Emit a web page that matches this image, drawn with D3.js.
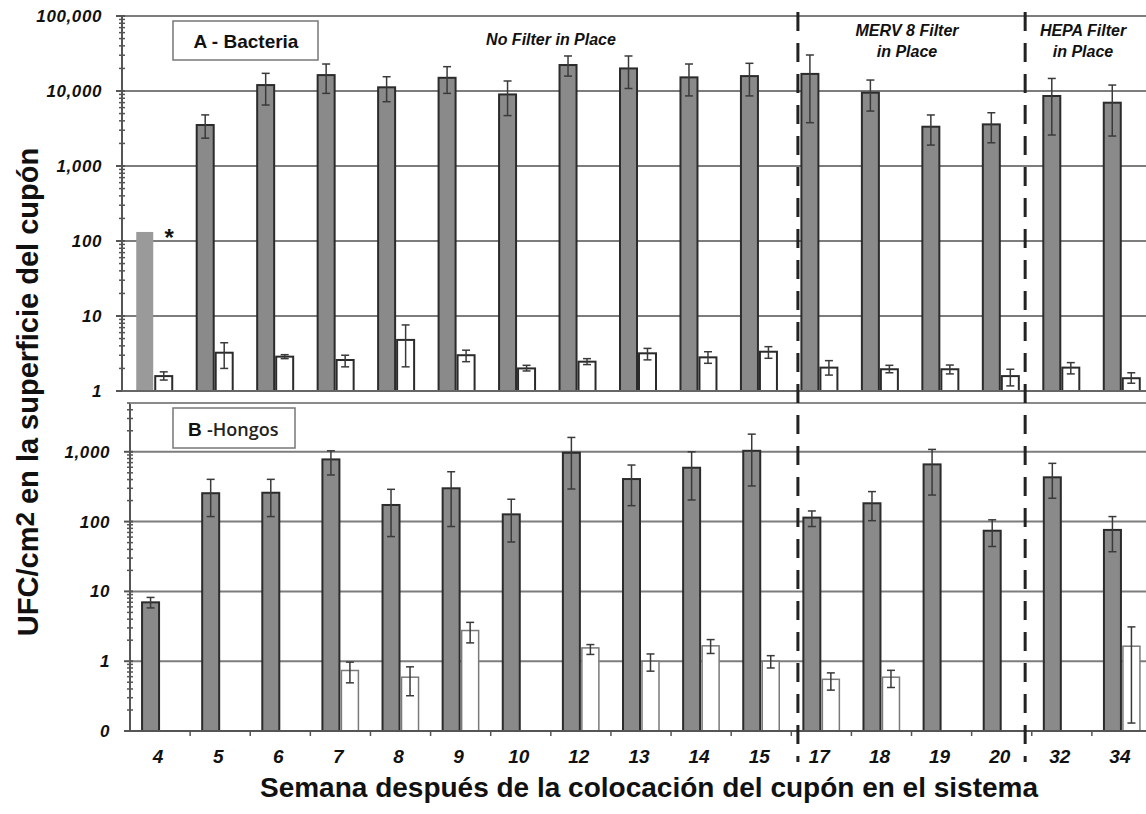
<!DOCTYPE html>
<html>
<head>
<meta charset="utf-8">
<script src="https://cdn.jsdelivr.net/npm/d3@7"></script>
<style>
  html, body { margin: 0; padding: 0; background: #fff; }
  svg { display: block; }
  text { font-family: "Liberation Sans", Arial, sans-serif; fill: #111; }
</style>
</head>
<body>
<svg id="chart" width="1146" height="814"></svg>
<script>
// Weeks after coupon placement
const weeks = ["4","5","6","7","8","9","10","12","13","14","15","17","18","19","20","32","34"];

// Panel A – bacteria (CFU/cm2), dark bars with error range
const bactDark   = [132, 3520, 12000, 16300, 11200, 15000, 9000, 22200, 20000, 15200, 15800, 16900, 9500, 3340, 3590, 8580, 6980];
const bactDarkLo = [null, 2350, 6500, 9300, 7200, 9300, 4700, 15800, 10800, 8600, 8600, 3780, 5400, 1900, 2040, 2590, 2510];
const bactDarkHi = [null, 4800, 17200, 22900, 15500, 21100, 13600, 29300, 29300, 22900, 23400, 30200, 14000, 4790, 5130, 14700, 12000];
// Panel A – bacteria, light bars
const bactLight   = [1.58, 3.24, 2.87, 2.59, 4.8, 3.0, 2.0, 2.46, 3.18, 2.81, 3.34, 2.05, 1.95, 1.95, 1.58, 2.05, 1.48];
const bactLightLo = [1.4, 2.0, 2.7, 2.1, 2.1, 2.46, 1.85, 2.25, 2.6, 2.34, 2.73, 1.63, 1.75, 1.69, 1.17, 1.69, 1.27];
const bactLightHi = [1.8, 4.4, 3.05, 3.0, 7.6, 3.5, 2.2, 2.7, 3.7, 3.34, 3.9, 2.54, 2.2, 2.22, 1.95, 2.39, 1.75];

// Panel B – fungi (CFU/cm2), dark bars
const fungDark   = [6.97, 255, 259, 778, 173, 300, 127, 968, 407, 591, 1033, 114, 183, 660, 74, 431, 76];
const fungDarkLo = [5.8, 118, 118, 465, 61, 85, 51, 293, 169, 204, 324, 85, 103, 240, 44, 216, 37];
const fungDarkHi = [8.2, 403, 403, 1033, 290, 518, 209, 1606, 646, 1000, 1790, 142, 269, 1082, 106, 683, 118];
// Panel B – fungi, light bars
const fungLight   = [null, null, null, 0.736, 0.59, 2.75, null, 1.55, 1.0, 1.66, 1.0, 0.55, 0.59, null, null, null, 1.64];
const fungLightLo = [null, null, null, 0.49, 0.32, 1.83, null, 1.25, 0.72, 1.29, 0.8, 0.385, 0.42, null, null, null, 0.13];
const fungLightHi = [null, null, null, 0.97, 0.83, 3.6, null, 1.73, 1.27, 2.04, 1.2, 0.68, 0.74, null, null, null, 3.1];

// Tick labels
const ticksA = [1, 10, 100, 1000, 10000, 100000];
const ticksB = [0.1, 1, 10, 100, 1000];
const tickLabelsB = ["0", "1", "10", "100", "1,000"];

// Filter periods (first and last week of each)
const phases = [
  { lines: ["No Filter in Place"], from: "4", to: "15" },
  { lines: ["MERV 8 Filter", "in Place"], from: "17", to: "20" },
  { lines: ["HEPA Filter", "in Place"], from: "32", to: "34" }
];

const svg = d3.select("#chart");
const W = 1146;

const xA = d3.scaleBand().domain(weeks).range([124, 1152]).padding(0);
const xB = d3.scaleBand().domain(weeks).range([130, 1152]).padding(0);
const yA = d3.scaleLog().domain([1, 100000]).range([391, 16]);
const yB = d3.scaleLog().domain([0.1, 5000]).range([731, 403]);

const fmt = d3.format(",");
const BAR = 17;

function minorTicks(scale) {
  const [lo, hi] = scale.domain();
  const out = [];
  for (let d = lo; d < hi * 1.0001; d *= 10) {
    for (let k = 2; k <= 9; k++) {
      const v = d * k;
      if (v <= hi * 1.0001) out.push(v);
    }
  }
  return out;
}

function drawPanel(cfg) {
  const g = svg.append("g");
  const { x, y, axisX } = cfg;
  const y0 = y.range()[0];

  // horizontal gridlines
  g.selectAll(".grid").data(cfg.grid).join("line")
    .attr("x1", axisX).attr("x2", W)
    .attr("y1", d => y(d)).attr("y2", d => y(d))
    .attr("stroke", "#7d7d7d").attr("stroke-width", 2);

  // dark bars
  const darkRows = weeks.map((w, i) => ({ w, i, v: cfg.dark[i], lo: cfg.darkLo[i], hi: cfg.darkHi[i] }))
    .filter(d => d.v != null);
  g.selectAll(".dark").data(darkRows).join("rect")
    .attr("x", d => x(d.w) + x.bandwidth() / 2 - BAR - 1)
    .attr("width", BAR)
    .attr("y", d => y(d.v))
    .attr("height", d => y0 - y(d.v))
    .attr("fill", d => (cfg.plainFirst && d.i === 0) ? "#9a9a9a" : "#8a8a8a")
    .attr("stroke", d => (cfg.plainFirst && d.i === 0) ? "none" : "#2b2b2b")
    .attr("stroke-width", 2);

  // light bars
  const lightRows = weeks.map((w, i) => ({ w, i, v: cfg.light[i], lo: cfg.lightLo[i], hi: cfg.lightHi[i] }))
    .filter(d => d.v != null);
  g.selectAll(".light").data(lightRows).join("rect")
    .attr("x", d => x(d.w) + x.bandwidth() / 2 + 1)
    .attr("width", BAR)
    .attr("y", d => y(d.v))
    .attr("height", d => y0 - y(d.v))
    .attr("fill", "#fff")
    .attr("stroke", cfg.lightStroke)
    .attr("stroke-width", cfg.lightStrokeW);

  // error bars
  const errs = [
    ...darkRows.filter(d => d.lo != null).map(d => ({ cx: x(d.w) + x.bandwidth() / 2 - BAR / 2 - 1, lo: d.lo, hi: d.hi })),
    ...lightRows.filter(d => d.lo != null).map(d => ({ cx: x(d.w) + x.bandwidth() / 2 + BAR / 2 + 1, lo: d.lo, hi: d.hi }))
  ];
  const eg = g.selectAll(".err").data(errs).join("g").attr("stroke", "#3a3a3a").attr("stroke-width", 1.5);
  eg.append("line").attr("x1", d => d.cx).attr("x2", d => d.cx).attr("y1", d => y(d.lo)).attr("y2", d => y(d.hi));
  eg.append("line").attr("x1", d => d.cx - 4).attr("x2", d => d.cx + 4).attr("y1", d => y(d.lo)).attr("y2", d => y(d.lo));
  eg.append("line").attr("x1", d => d.cx - 4).attr("x2", d => d.cx + 4).attr("y1", d => y(d.hi)).attr("y2", d => y(d.hi));

  // left axis with log minor ticks
  g.append("line").attr("x1", axisX).attr("x2", axisX)
    .attr("y1", y.range()[1]).attr("y2", y0)
    .attr("stroke", "#555").attr("stroke-width", 2);
  g.selectAll(".minor").data(minorTicks(y)).join("line")
    .attr("x1", axisX - 3).attr("x2", axisX + 3)
    .attr("y1", d => y(d)).attr("y2", d => y(d))
    .attr("stroke", "#555").attr("stroke-width", 1.5);
  g.selectAll(".major").data(cfg.ticks).join("line")
    .attr("x1", axisX - 6).attr("x2", axisX + 3)
    .attr("y1", d => y(d)).attr("y2", d => y(d))
    .attr("stroke", "#555").attr("stroke-width", 2);
  g.selectAll(".tlab").data(cfg.ticks).join("text")
    .attr("x", axisX - 20).attr("y", d => y(d) + 6)
    .attr("text-anchor", "end")
    .attr("font-size", 17).attr("font-weight", "bold").attr("font-style", "italic")
    .attr("letter-spacing", 0.6)
    .text((d, i) => cfg.tickLabels[i]);

  return g;
}

// Panel A
const gA = drawPanel({
  x: xA, y: yA, axisX: 122, grid: ticksA.slice(1),
  dark: bactDark, darkLo: bactDarkLo, darkHi: bactDarkHi,
  light: bactLight, lightLo: bactLightLo, lightHi: bactLightHi,
  lightStroke: "#2b2b2b", lightStrokeW: 2, plainFirst: true,
  ticks: ticksA, tickLabels: ticksA.map(fmt)
});
// baseline of panel A
svg.append("line").attr("x1", 122).attr("x2", W).attr("y1", 391).attr("y2", 391)
  .attr("stroke", "#666").attr("stroke-width", 2);

// asterisk next to the week-4 bar
svg.append("text")
  .attr("x", xA("4") + xA.bandwidth() / 2 + 15).attr("y", yA(bactDark[0]) + 14)
  .attr("text-anchor", "middle").attr("font-size", 24).attr("font-weight", "bold")
  .text("*");

// Panel B
const gB = drawPanel({
  x: xB, y: yB, axisX: 130, grid: ticksB.slice(1),
  dark: fungDark, darkLo: fungDarkLo, darkHi: fungDarkHi,
  light: fungLight, lightLo: fungLightLo, lightHi: fungLightHi,
  lightStroke: "#7a7a7a", lightStrokeW: 1.5, plainFirst: false,
  ticks: ticksB, tickLabels: tickLabelsB
});
// top border and bottom axis of panel B
svg.append("line").attr("x1", 130).attr("x2", W).attr("y1", 403).attr("y2", 403)
  .attr("stroke", "#8a8a8a").attr("stroke-width", 2);
svg.append("line").attr("x1", 130).attr("x2", W).attr("y1", 731).attr("y2", 731)
  .attr("stroke", "#555").attr("stroke-width", 2);
// x ticks at band boundaries
svg.selectAll(".xt").data(weeks.slice(1)).join("line")
  .attr("x1", d => xB(d)).attr("x2", d => xB(d))
  .attr("y1", 731).attr("y2", 736)
  .attr("stroke", "#555").attr("stroke-width", 1.5);
// week labels
svg.selectAll(".xl").data(weeks).join("text")
  .attr("x", d => xB(d) + xB.bandwidth() / 2 - 2).attr("y", 763)
  .attr("text-anchor", "middle")
  .attr("font-size", 19).attr("font-weight", "bold").attr("font-style", "italic")
  .text(d => d);

// filter-period dividers
const bw = xB.bandwidth();
const dividers = [xB("17") + 0.11 * bw, xB("32") - 0.11 * bw];
svg.selectAll(".div").data(dividers).join("line")
  .attr("x1", d => d).attr("x2", d => d)
  .attr("y1", 12).attr("y2", 762)
  .attr("stroke", "#222").attr("stroke-width", 3)
  .attr("stroke-dasharray", "19,12");

// period captions
const capCenters = [551, 907, 1083];
phases.forEach((p, k) => {
  const t = svg.append("text")
    .attr("x", capCenters[k]).attr("y", 45)
    .attr("text-anchor", "middle")
    .attr("font-size", 16).attr("font-weight", "bold").attr("font-style", "italic")
    .attr("fill", "#222");
  if (p.lines.length === 1) {
    t.text(p.lines[0]);
  } else {
    t.attr("y", 36);
    p.lines.forEach((ln, j) => {
      t.append("tspan").attr("x", capCenters[k]).attr("dy", j === 0 ? 0 : 21).text(ln);
    });
  }
});

// panel tags
svg.append("rect").attr("x", 173).attr("y", 21).attr("width", 145).attr("height", 39)
  .attr("fill", "#fff").attr("stroke", "#777").attr("stroke-width", 1.5);
svg.append("text").attr("x", 246).attr("y", 48).attr("text-anchor", "middle")
  .attr("font-size", 19).attr("font-weight", "bold").text("A - Bacteria");

svg.append("rect").attr("x", 173).attr("y", 408).attr("width", 122).attr("height", 40)
  .attr("fill", "#fff").attr("stroke", "#777").attr("stroke-width", 1.5);
const tb = svg.append("text").attr("x", 188).attr("y", 436).attr("font-size", 19);
tb.append("tspan").attr("font-weight", "bold").text("B ");
tb.append("tspan").attr("font-family", "'Open Sans', sans-serif").attr("font-size", 18).attr("font-weight", 600).attr("fill", "#222").text("-Hongos");

// axis titles
const yt = svg.append("text")
  .attr("transform", "translate(38,392) rotate(-90)")
  .attr("text-anchor", "middle")
  .attr("font-size", 29).attr("font-weight", "bold");
yt.append("tspan").text("UFC/cm");
yt.append("tspan").attr("dy", -4).attr("font-size", 26).text("2");
yt.append("tspan").attr("dy", 4).text(" en la superficie del cupón");

svg.append("text")
  .attr("x", 649).attr("y", 797).attr("text-anchor", "middle")
  .attr("font-size", 28).attr("font-weight", "bold")
  .text("Semana después de la colocación del cupón en el sistema");
</script>
</body>
</html>
